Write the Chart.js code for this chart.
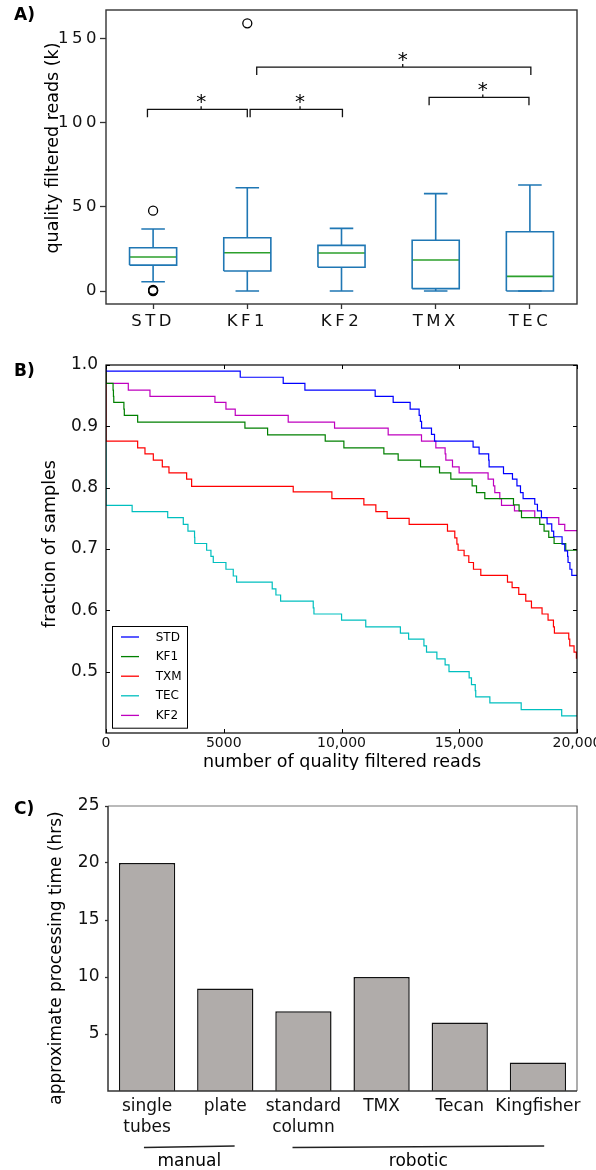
<!DOCTYPE html>
<html><head><meta charset="utf-8">
<script src="https://cdn.jsdelivr.net/npm/chart.js@4.4.1/dist/chart.umd.min.js"></script>
<style>
html,body{margin:0;padding:0;background:#fff;}
#wrap{position:relative;width:596px;height:1170px;overflow:hidden;background:#fff;}
canvas{position:absolute;left:0;}
</style></head><body>
<div id="wrap">
<canvas id="cA" width="596" height="340" style="top:0px"></canvas>
<canvas id="cB" width="596" height="430" style="top:340px"></canvas>
<canvas id="cC" width="596" height="400" style="top:770px"></canvas>
</div>
<script>
// ---------------- Panel A data (box plot, thousands of reads) ----------------
const boxCategories = ['STD', 'KF1', 'KF2', 'TMX', 'TEC'];
const boxWhiskerLow = [5.5, 0, 0, 0, 0];
const boxQ1 = [15.4, 11.9, 14.1, 1.4, 0];
const boxMedian = [20.2, 22.7, 22.6, 18.4, 8.7];
const boxQ3 = [25.7, 31.6, 27.1, 30.1, 35.2];
const boxWhiskerHigh = [36.8, 61.3, 37.2, 57.8, 62.9];
const boxOutliers = [[0, 0], [0, 0.3], [0, 0.7], [0, 47.7], [1, 158.9]];
const boxYTicks = [0, 50, 100, 150];
// [from category, to category, bracket level, mid position]
const sigBrackets = [[-0.06, 1.0, 107.8, 0.51], [1.03, 2.01, 107.8, 1.56], [1.10, 4.01, 132.9, 2.65], [2.93, 3.99, 114.9, 3.5]];
const sigLabel = '*';

// ---------------- Panel B data (fraction of samples vs reads) ----------------
const stdSteps = [[0,1.0],[0,0.990],[5700,0.980],[7525,0.970],[8446,0.959],[11430,0.949],[12194,0.939],[12915,0.928],[13297,0.918],[13350,0.908],[13400,0.897],[13821,0.887],[13950,0.876],[15588,0.866],[15843,0.855],[16250,0.845],[16268,0.834],[16879,0.823],[17260,0.814],[17450,0.803],[17600,0.792],[17711,0.782],[18207,0.773],[18320,0.762],[18490,0.751],[18730,0.741],[18928,0.729],[19010,0.720],[19366,0.708],[19480,0.697],[19600,0.688],[19620,0.678],[19700,0.667],[19780,0.657],[20000,0.657]];
const kf1Steps = [[0,1.0],[0,0.970],[300,0.959],[316,0.949],[330,0.939],[760,0.928],[778,0.918],[1344,0.907],[5899,0.897],[6862,0.886],[9309,0.876],[10101,0.865],[11799,0.855],[12406,0.845],[13356,0.834],[14162,0.824],[14642,0.814],[15547,0.803],[15733,0.792],[16085,0.782],[17303,0.772],[17541,0.762],[17643,0.751],[18419,0.740],[18602,0.729],[18801,0.719],[19027,0.709],[19522,0.698],[20000,0.698]];
const txmSteps = [[0,1.0],[0,0.876],[1344,0.865],[1655,0.855],[2009,0.845],[2391,0.834],[2674,0.824],[3424,0.814],[3636,0.802],[7950,0.793],[9592,0.782],[10950,0.772],[11459,0.761],[11939,0.750],[12872,0.740],[14500,0.729],[14811,0.718],[14900,0.708],[14951,0.698],[15206,0.689],[15406,0.678],[15604,0.667],[15915,0.657],[17048,0.646],[17245,0.637],[17527,0.626],[17824,0.615],[18066,0.604],[18516,0.594],[18771,0.584],[19000,0.573],[19041,0.563],[19650,0.553],[19692,0.542],[19875,0.532],[19975,0.522],[20000,0.522]];
const tecSteps = [[0,1.0],[0,0.771],[1110,0.761],[2620,0.751],[3282,0.740],[3480,0.729],[3760,0.719],[3770,0.709],[4273,0.698],[4456,0.688],[4555,0.678],[5093,0.667],[5404,0.656],[5545,0.646],[7058,0.635],[7215,0.625],[7414,0.615],[8800,0.604],[8830,0.594],[10003,0.584],[11030,0.573],[12500,0.563],[12850,0.553],[13500,0.542],[13610,0.532],[14050,0.521],[14400,0.511],[14565,0.500],[15420,0.490],[15519,0.479],[15680,0.469],[15700,0.459],[16300,0.449],[17630,0.438],[19350,0.428],[20000,0.428]];
const kf2Steps = [[0,1.0],[0,0.970],[947,0.959],[1867,0.949],[4626,0.939],[5093,0.928],[5488,0.918],[7737,0.907],[9705,0.897],[11982,0.886],[13397,0.876],[14006,0.865],[14400,0.855],[14430,0.845],[14713,0.834],[14995,0.824],[16225,0.814],[16454,0.803],[16510,0.792],[16722,0.782],[16794,0.771],[17345,0.762],[18207,0.751],[19226,0.740],[19480,0.730],[20000,0.730]];
const curveLabels = ['STD', 'KF1', 'TXM', 'TEC', 'KF2'];
const curveXTicks = [0, 5000, 10000, 15000, 20000];
const curveXTickLabels = ['0', '5000', '10,000', '15,000', '20,000'];
const curveYTicks = [0.5, 0.6, 0.7, 0.8, 0.9, 1.0];

// ---------------- Panel C data (processing time, hrs) ----------------
const timeCategories = [['single', 'tubes'], 'plate', ['standard', 'column'], 'TMX', 'Tecan', 'Kingfisher'];
const timeHours = [20, 9, 7, 10, 6, 2.5];
const timeYTicks = [5, 10, 15, 20, 25];
const methodGroups = [['manual', -0.04, 1.12], ['robotic', 1.86, 5.08]];

// ---------------- helpers ----------------
Chart.defaults.font.family = '"DejaVu Sans", sans-serif';
Chart.defaults.color = '#000';
const FAM = '"DejaVu Sans", sans-serif';

function textPlugin(id, items) {
  return {
    id: id,
    afterDraw(chart) {
      const ctx = chart.ctx;
      ctx.save();
      ctx.letterSpacing = '0px';
      ctx.fillStyle = '#000';
      items.forEach(it => {
        ctx.save();
        ctx.font = it.font;
        ctx.textAlign = it.align || 'center';
        ctx.textBaseline = 'middle';
        ctx.translate(it.x, it.y);
        if (it.rot) ctx.rotate(it.rot);
        ctx.fillText(it.text, 0, 0);
        ctx.restore();
      });
      ctx.restore();
    }
  };
}
function fixSize(prop, val) {
  return function (s) {
    s[prop] = val;
    s.paddingLeft = 0; s.paddingRight = 0; s.paddingTop = 0; s.paddingBottom = 0;
  };
}
function setTicks(vals) {
  return function (s) { s.ticks = vals.map(v => ({ value: v })); };
}

// ---------------- Panel A ----------------
(function () {
  const rect = [], whisk = [], meds = [], br = [];
  boxCategories.forEach((c, i) => {
    const L = i - 0.25, R = i + 0.25, cl = i - 0.125, cr = i + 0.125;
    rect.push({x: L, y: boxQ1[i]}, {x: R, y: boxQ1[i]}, {x: R, y: boxQ3[i]}, {x: L, y: boxQ3[i]}, {x: L, y: boxQ1[i]}, {x: i, y: null});
    whisk.push({x: i, y: boxQ1[i]}, {x: i, y: boxWhiskerLow[i]}, {x: i, y: null},
      {x: cl, y: boxWhiskerLow[i]}, {x: cr, y: boxWhiskerLow[i]}, {x: i, y: null},
      {x: i, y: boxQ3[i]}, {x: i, y: boxWhiskerHigh[i]}, {x: i, y: null},
      {x: cl, y: boxWhiskerHigh[i]}, {x: cr, y: boxWhiskerHigh[i]}, {x: i, y: null});
    meds.push({x: L, y: boxMedian[i]}, {x: R, y: boxMedian[i]}, {x: i, y: null});
  });
  sigBrackets.forEach(b => {
    const [f, t, yv, m] = b;
    br.push({x: f, y: yv - 4.7}, {x: f, y: yv}, {x: t, y: yv}, {x: t, y: yv - 4.7}, {x: f, y: null},
      {x: m, y: yv}, {x: m, y: yv + 1.8}, {x: m, y: null});
  });
  const lineDs = (data, color, w) => ({type: 'line', data, borderColor: color, borderWidth: w, pointRadius: 0, fill: false, spanGaps: false, tension: 0});
  const plugA = {
    id: 'plugA',
    beforeDraw(chart) { chart.ctx.letterSpacing = '3.5px'; },
    beforeDatasetsDraw(chart) { chart.ctx.letterSpacing = '0px'; },
    afterDraw(chart) {
      const {ctx, chartArea: a, scales: {x, y}} = chart;
      ctx.save();
      ctx.letterSpacing = '0px';
      ctx.strokeStyle = '#333'; ctx.lineWidth = 1.4;
      ctx.strokeRect(a.left, a.top, a.right - a.left, a.bottom - a.top);
      ctx.fillStyle = '#000';
      ctx.font = '20px ' + FAM;
      ctx.textAlign = 'center'; ctx.textBaseline = 'alphabetic';
      sigBrackets.forEach(b => {
        const px = x.getPixelForValue(b[3]);
        const py = y.getPixelForValue(b[2]);
        ctx.fillText(sigLabel, px, py - 1.5);
      });
      ctx.restore();
    }
  };
  new Chart(document.getElementById('cA'), {
    type: 'line',
    data: {
      datasets: [
        lineDs(rect, '#1f77b4', 1.6),
        lineDs(whisk, '#1f77b4', 1.6),
        lineDs(meds, '#2ca02c', 1.6),
        lineDs(br, '#111', 1.3),
        {type: 'scatter', data: boxOutliers.map(o => ({x: o[0], y: o[1]})), showLine: false, pointRadius: 4.5,
          pointBorderWidth: 1.3, pointBorderColor: '#000', pointBackgroundColor: 'rgba(0,0,0,0)'}
      ]
    },
    options: {
      responsive: false, animation: false, devicePixelRatio: 1, events: [],
      layout: {padding: {left: 0, right: 19, top: 10, bottom: 0}},
      plugins: {legend: {display: false}, tooltip: {enabled: false}},
      scales: {
        x: {
          type: 'linear', min: -0.5, max: 4.5,
          afterBuildTicks: setTicks([0, 1, 2, 3, 4]),
          afterFit: fixSize('height', 36),
          border: {display: false},
          grid: {drawOnChartArea: false, drawTicks: true, tickLength: 5, color: '#333', tickColor: '#333', tickWidth: 1.3},
          ticks: {autoSkip: false, maxRotation: 0, minRotation: 0, padding: 3, font: {size: 16.5}, color: '#111',
            callback: (v) => boxCategories[v]}
        },
        y: {
          type: 'linear', min: -7.7, max: 166.8,
          afterBuildTicks: setTicks(boxYTicks),
          afterFit: fixSize('width', 106),
          border: {display: false},
          grid: {drawOnChartArea: false, drawTicks: true, tickLength: 6, color: '#333', tickColor: '#333', tickWidth: 1.3},
          ticks: {padding: 0, font: {size: 16.5}, color: '#111', callback: (v) => String(v)}
        }
      }
    },
    plugins: [plugA, textPlugin('txtA', [
      {text: 'A)', x: 14, y: 16, font: 'bold 17px ' + FAM, align: 'left'},
      {text: 'quality filtered reads (k)', x: 53, y: 148, rot: -Math.PI / 2, font: '17.5px ' + FAM}
    ])]
  });
})();

// ---------------- Panel B ----------------
(function () {
  const series = [stdSteps, kf1Steps, txmSteps, tecSteps, kf2Steps];
  const colors = ['#0000ff', '#008000', '#ff0000', '#00bfbf', '#bf00bf'];
  const plugB = {
    id: 'plugB',
    afterDatasetsDraw(chart) {
      const {ctx, chartArea: a, scales: {x, y}} = chart;
      ctx.save();
      ctx.strokeStyle = '#000'; ctx.lineWidth = 1.2;
      ctx.strokeRect(a.left, a.top, a.right - a.left, a.bottom - a.top);
      ctx.lineWidth = 1;
      ctx.beginPath();
      x.ticks.forEach(t => {
        const px = Math.round(x.getPixelForValue(t.value)) + 0.5;
        ctx.moveTo(px, a.bottom); ctx.lineTo(px, a.bottom - 4);
        ctx.moveTo(px, a.top); ctx.lineTo(px, a.top + 4);
      });
      y.ticks.forEach(t => {
        const py = Math.round(y.getPixelForValue(t.value)) + 0.5;
        ctx.moveTo(a.left, py); ctx.lineTo(a.left + 4, py);
        ctx.moveTo(a.right, py); ctx.lineTo(a.right - 4, py);
      });
      ctx.stroke();
      // legend
      const bx = a.left + 6, by = a.bottom - 107.3, bw = 75, bh = 101.7;
      ctx.fillStyle = '#fff';
      ctx.fillRect(bx, by, bw, bh);
      ctx.strokeStyle = '#000'; ctx.lineWidth = 1;
      ctx.strokeRect(Math.round(bx) + 0.5, Math.round(by) + 0.5, bw, bh);
      ctx.font = '12px ' + FAM; ctx.textAlign = 'left'; ctx.textBaseline = 'middle'; ctx.fillStyle = '#000';
      chart.data.datasets.forEach((ds, i) => {
        const ry = by + 11.3 + 19.6 * i;
        ctx.strokeStyle = ds.borderColor; ctx.lineWidth = 1.3;
        ctx.beginPath(); ctx.moveTo(bx + 9, ry); ctx.lineTo(bx + 27, ry); ctx.stroke();
        ctx.fillText(ds.label, bx + 43.7, ry + 0.5);
      });
      ctx.restore();
    }
  };
  new Chart(document.getElementById('cB'), {
    type: 'line',
    data: {
      datasets: series.map((s, i) => ({
        label: curveLabels[i], data: s.map(p => ({x: p[0], y: p[1]})), borderColor: colors[i],
        borderWidth: 1.2, pointRadius: 0, stepped: true, fill: false
      }))
    },
    options: {
      responsive: false, animation: false, devicePixelRatio: 1, events: [],
      layout: {padding: {left: 0, right: 19, top: 25, bottom: 0}},
      plugins: {legend: {display: false}, tooltip: {enabled: false}},
      scales: {
        x: {
          type: 'linear', min: 0, max: 20000,
          afterBuildTicks: setTicks(curveXTicks),
          afterFit: fixSize('height', 37),
          border: {display: false},
          grid: {display: false, drawTicks: false},
          ticks: {autoSkip: false, maxRotation: 0, minRotation: 0, padding: 2, font: {size: 14}, color: '#111',
            callback: (v, i) => curveXTickLabels[i]}
        },
        y: {
          type: 'linear', min: 0.4, max: 1.0,
          afterBuildTicks: setTicks(curveYTicks),
          afterFit: fixSize('width', 106),
          border: {display: false},
          grid: {display: false, drawTicks: false},
          ticks: {padding: 8, font: {size: 17}, color: '#111', callback: (v) => v.toFixed(1)}
        }
      }
    },
    plugins: [plugB, textPlugin('txtB', [
      {text: 'B)', x: 14, y: 31.7, font: 'bold 17px ' + FAM, align: 'left'},
      {text: 'fraction of samples', x: 50, y: 204, rot: -Math.PI / 2, font: '17.5px ' + FAM},
      {text: 'number of quality filtered reads', x: 342, y: 422.5, font: '17.5px ' + FAM}
    ])]
  });
})();

// ---------------- Panel C ----------------
(function () {
  const plugC = {
    id: 'plugC',
    afterDraw(chart) {
      const {ctx, chartArea: a, scales: {x}} = chart;
      ctx.save();
      ctx.strokeStyle = '#777'; ctx.lineWidth = 1.2;
      ctx.beginPath();
      ctx.moveTo(a.left, a.top); ctx.lineTo(a.right, a.top); ctx.lineTo(a.right, a.bottom);
      ctx.stroke();
      ctx.strokeStyle = '#333'; ctx.lineWidth = 1.5;
      ctx.beginPath();
      ctx.moveTo(a.left, a.top); ctx.lineTo(a.left, a.bottom); ctx.lineTo(a.right, a.bottom);
      ctx.stroke();
      // method groups
      const lineY = 376.5, textY = 392;
      ctx.font = '17px ' + FAM; ctx.fillStyle = '#000'; ctx.textAlign = 'center'; ctx.textBaseline = 'middle';
      methodGroups.forEach(g => {
        const x0 = x.getPixelForValue(g[1]), x1 = x.getPixelForValue(g[2]);
        ctx.strokeStyle = '#222'; ctx.lineWidth = 1.3;
        ctx.beginPath(); ctx.moveTo(x0, lineY + 1); ctx.lineTo(x1, lineY - 0.5); ctx.stroke();
        ctx.fillText(g[0], (x0 + x1) / 2, textY);
      });
      ctx.restore();
    }
  };
  new Chart(document.getElementById('cC'), {
    type: 'bar',
    data: {
      labels: timeCategories,
      datasets: [{data: timeHours, backgroundColor: '#b0acaa', borderColor: '#111', borderWidth: 1.5,
        barPercentage: 0.72, categoryPercentage: 1}]
    },
    options: {
      responsive: false, animation: false, devicePixelRatio: 1, events: [],
      layout: {padding: {left: 0, right: 19, top: 36, bottom: 0}},
      plugins: {legend: {display: false}, tooltip: {enabled: false}},
      scales: {
        x: {
          afterFit: fixSize('height', 79),
          border: {display: false},
          grid: {display: false, drawTicks: false},
          ticks: {autoSkip: false, maxRotation: 0, minRotation: 0, padding: 5, font: {size: 17, lineHeight: 1.25}, color: '#111'}
        },
        y: {
          min: 0, max: 25,
          afterBuildTicks: setTicks(timeYTicks),
          afterFit: fixSize('width', 108),
          border: {display: false},
          grid: {drawOnChartArea: false, drawTicks: true, tickLength: 3, color: '#333', tickColor: '#333', tickWidth: 1.3},
          ticks: {padding: 5.5, font: {size: 17}, color: '#111', callback: (v) => String(v)}
        }
      }
    },
    plugins: [plugC, textPlugin('txtC', [
      {text: 'C)', x: 14, y: 40, font: 'bold 17px ' + FAM, align: 'left'},
      {text: 'approximate processing time (hrs)', x: 57, y: 188, rot: -Math.PI / 2, font: '17px ' + FAM}
    ])]
  });
})();
</script>
</body></html>
